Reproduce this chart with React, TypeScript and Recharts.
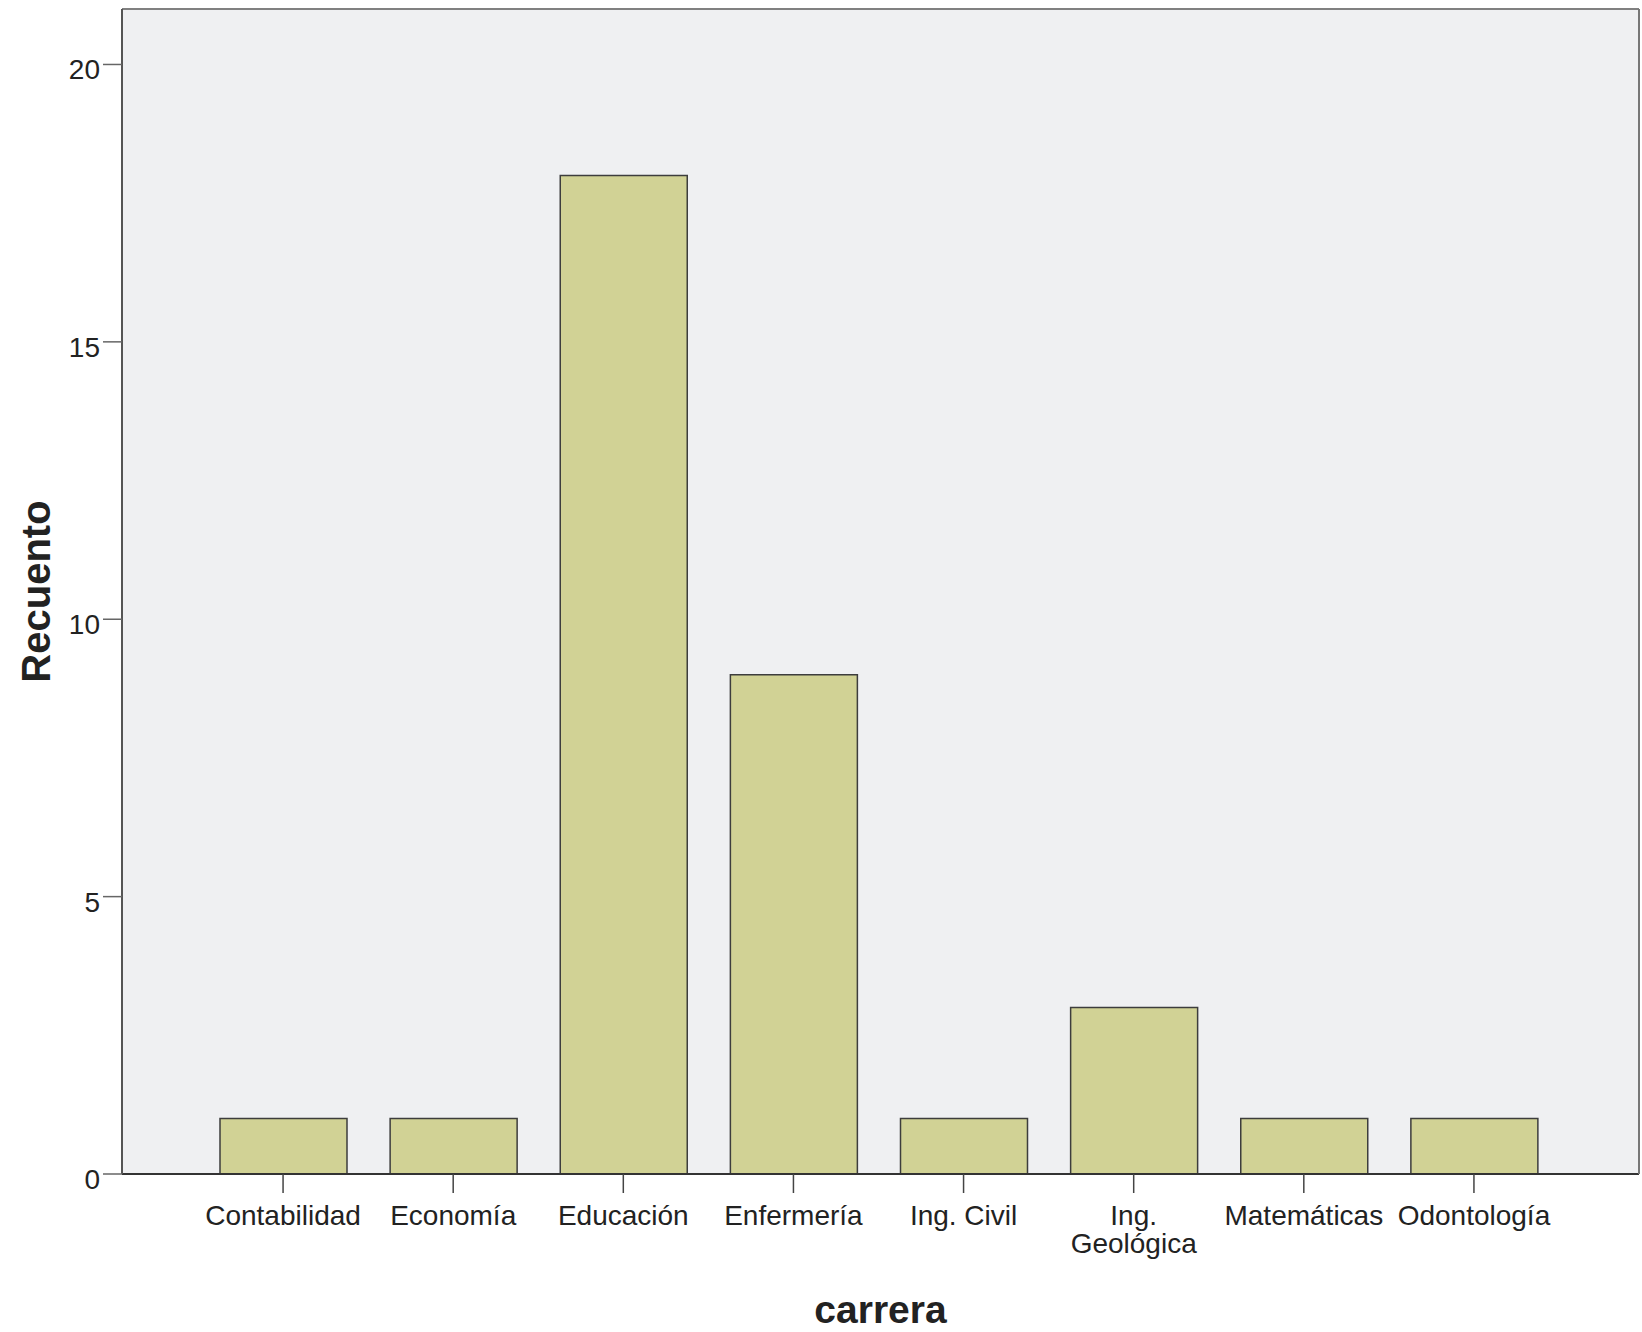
import { Bar, BarChart, CartesianGrid, XAxis, YAxis } from "recharts";

const FONT = "'Liberation Sans', Arial, Helvetica, sans-serif";

const carreras = [
  "Contabilidad",
  "Economía",
  "Educación",
  "Enfermería",
  "Ing. Civil",
  "Ing. Geológica",
  "Matemáticas",
  "Odontología",
];
// tick text as it is broken into lines under each bar
const tickLines = [
  ["Contabilidad"],
  ["Economía"],
  ["Educación"],
  ["Enfermería"],
  ["Ing. Civil"],
  ["Ing.", "Geológica"],
  ["Matemáticas"],
  ["Odontología"],
];
const recuento = [1, 1, 18, 9, 1, 3, 1, 1];
const yTicks = [0, 5, 10, 15, 20];

const data = carreras.map((carrera, i) => ({ carrera, recuento: recuento[i] }));

function YTick({ x, y, payload }: any) {
  return (
    <text x={x} y={y} dy={15} textAnchor="end" fill="#222" fontSize={28} fontFamily={FONT}>
      {payload.value}
    </text>
  );
}

function XTick({ x, y, payload }: any) {
  const idx = carreras.indexOf(payload.value);
  const lines = idx >= 0 ? tickLines[idx] : [String(payload.value)];
  return (
    <text x={x} y={y + 32} textAnchor="middle" fill="#222" fontSize={28} fontFamily={FONT}>
      {lines.map((l, i) => (
        <tspan key={i} x={x} dy={i === 0 ? 0 : 28}>
          {l}
        </tspan>
      ))}
    </text>
  );
}

export default function App() {
  return (
    <div style={{ position: "absolute", left: 0, top: 0, width: 1642, height: 1332, background: "#fff", fontFamily: FONT }}>
      <BarChart width={1642} height={1332} data={data} margin={{ top: 8, right: 2, left: 0, bottom: 0 }}>
        <CartesianGrid horizontal={false} vertical={false} fill="#eff0f2" fillOpacity={1} />
        <XAxis
          dataKey="carrera"
          height={158}
          padding={{ left: 76, right: 80 }}
          tickSize={19}
          tickMargin={0}
          tickLine={{ stroke: "#444", strokeWidth: 1.5 }}
          axisLine={{ stroke: "#333", strokeWidth: 2 }}
          tick={<XTick />}
          interval={0}
          label={{
            value: "carrera",
            position: "insideBottom",
            offset: 9,
            fill: "#222",
            style: { fontFamily: FONT, fontSize: 39, fontWeight: "bold" },
          }}
        />
        <XAxis
          xAxisId="top"
          orientation="top"
          dataKey="carrera"
          height={1}
          tick={false}
          tickLine={false}
          axisLine={{ stroke: "#808080", strokeWidth: 2 }}
        />
        <YAxis
          width={122}
          domain={[0, 21]}
          ticks={yTicks}
          tickSize={19}
          tickMargin={3}
          tickLine={{ stroke: "#666", strokeWidth: 1.5 }}
          axisLine={{ stroke: "#555", strokeWidth: 2 }}
          tick={<YTick />}
          label={{
            value: "Recuento",
            angle: -90,
            position: "insideLeft",
            offset: 36,
            fill: "#222",
            style: { fontFamily: FONT, fontSize: 40, fontWeight: "bold", textAnchor: "middle" },
          }}
        />
        <YAxis
          yAxisId="right"
          orientation="right"
          width={1}
          domain={[0, 21]}
          tick={false}
          tickLine={false}
          axisLine={{ stroke: "#777", strokeWidth: 2 }}
        />
        <Bar dataKey="recuento" barSize={127} fill="#d1d295" stroke="#3d3d3d" strokeWidth={1.5} isAnimationActive={false} />
      </BarChart>
    </div>
  );
}
